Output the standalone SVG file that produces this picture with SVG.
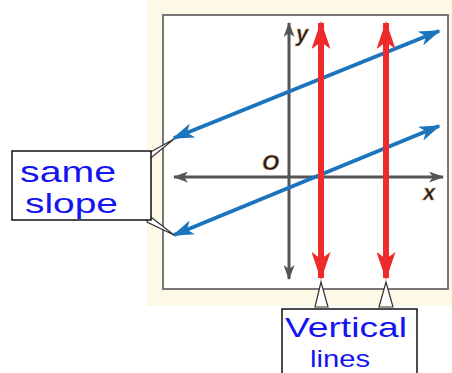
<svg xmlns="http://www.w3.org/2000/svg" width="452" height="373" viewBox="0 0 452 373">
<style>
.hand{font-family:"Liberation Sans","DejaVu Sans",sans-serif;fill:#1515f0;}
.lbl{font-family:"Liberation Sans",Arial,sans-serif;font-weight:bold;font-style:italic;fill:#1b1b2a;stroke:#e8b060;stroke-width:0.5;}
.wedge{fill:#fff;stroke:#333;stroke-width:1.2;stroke-linejoin:miter;}
.box{fill:#fff;stroke:#111;stroke-width:1.5;}
</style>
<defs>
<marker id="ab" markerUnits="userSpaceOnUse" markerWidth="22" markerHeight="15" refX="20" refY="7.5" orient="auto-start-reverse" viewBox="0 0 22 15">
<path d="M0,0 L22,7.5 L0,15 L6,7.5 z" fill="#1c75bc"/>
</marker>
<marker id="ar" markerUnits="userSpaceOnUse" markerWidth="28" markerHeight="19" refX="26" refY="9.5" orient="auto-start-reverse" viewBox="0 0 28 19">
<path d="M0,0 L28,9.5 L0,19 L7,9.5 z" fill="#ee2a2a"/>
</marker>
<marker id="ag" markerUnits="userSpaceOnUse" markerWidth="15" markerHeight="11" refX="14" refY="5.5" orient="auto-start-reverse" viewBox="0 0 15 11">
<path d="M0,0 L15,5.5 L0,11 L4,5.5 z" fill="#555"/>
</marker>
</defs>
<rect x="147" y="0" width="305" height="306" fill="#fdf9e6"/>
<rect id="grid-box" x="163" y="15" width="285" height="274" fill="#fff" stroke="#777" stroke-width="2"/>
<g id="connectors">
<line x1="174" y1="177" x2="443" y2="177" stroke="#555" stroke-width="3" marker-start="url(#ag)" marker-end="url(#ag)"/>
<line x1="289" y1="279" x2="289" y2="23" stroke="#555" stroke-width="3" marker-start="url(#ag)" marker-end="url(#ag)"/>
<line x1="174" y1="138" x2="439" y2="31" stroke="#1c75bc" stroke-width="4" marker-start="url(#ab)" marker-end="url(#ab)"/>
<line x1="174" y1="235" x2="439" y2="126" stroke="#1c75bc" stroke-width="4" marker-start="url(#ab)" marker-end="url(#ab)"/>
<line x1="321" y1="278" x2="321" y2="23" stroke="#ee2a2a" stroke-width="6" marker-start="url(#ar)" marker-end="url(#ar)"/>
<line x1="386" y1="278" x2="386" y2="23" stroke="#ee2a2a" stroke-width="6" marker-start="url(#ar)" marker-end="url(#ar)"/>
</g>
<g id="axis-labels">
<text class="lbl" x="296" y="41" font-size="22">y</text>
<text class="lbl" x="262" y="170" font-size="22">O</text>
<text class="lbl" x="423" y="200" font-size="22">x</text>
</g>
<g id="same-slope">
<polygon class="wedge" points="147,154 174,139 147,161"/>
<polygon class="wedge" points="147,214 174,235 147,222"/>
<rect class="box" x="12" y="151" width="139" height="69"/>
<text class="hand" x="20" y="182" font-size="30" textLength="96" lengthAdjust="spacingAndGlyphs">same</text>
<text class="hand" x="25" y="213" font-size="28" textLength="93" lengthAdjust="spacingAndGlyphs">slope</text>
</g>
<g id="vertical-lines">
<polygon class="wedge" points="315,307 321,282 328,307"/>
<polygon class="wedge" points="379,307 386,282 393,307"/>
<rect class="box" x="282" y="309" width="135" height="70"/>
<text class="hand" x="285" y="337" font-size="28" textLength="122" lengthAdjust="spacingAndGlyphs">Vertical</text>
<text class="hand" x="310" y="367" font-size="24" textLength="60" lengthAdjust="spacingAndGlyphs">lines</text>
</g>
</svg>
